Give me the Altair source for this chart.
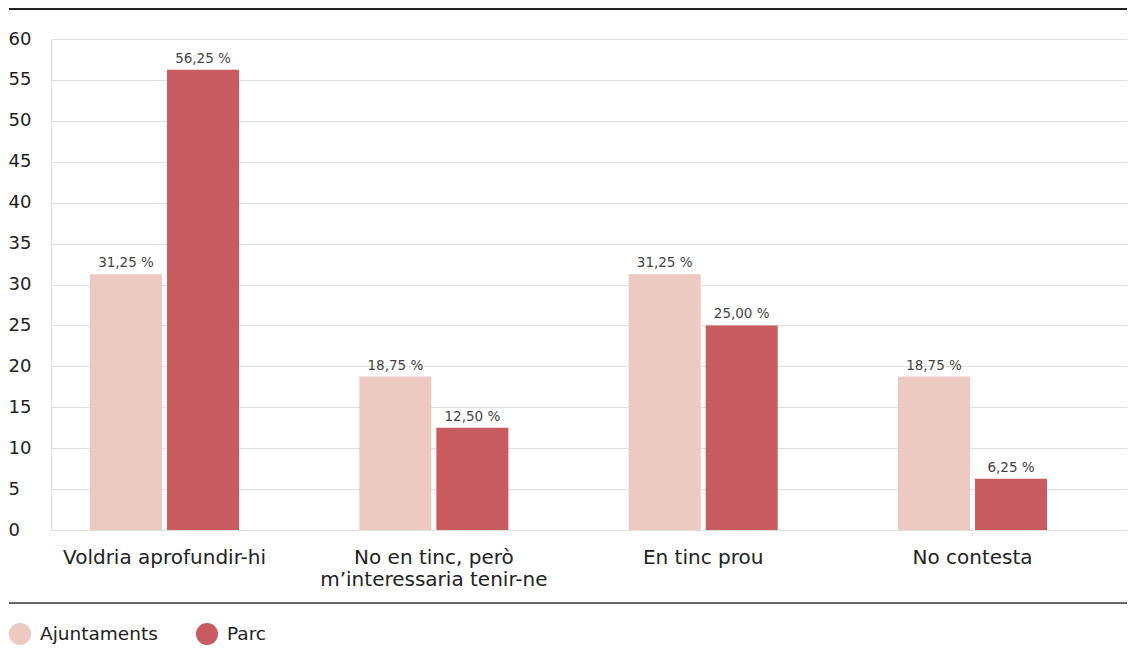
import altair as alt
import pandas as pd

categories = ["Voldria aprofundir-hi", "No en tinc, però\nm’interessaria tenir-ne", "En tinc prou", "No contesta"]
series = ["Ajuntaments", "Parc"]
ajuntaments = [31.25, 18.75, 31.25, 18.75]
parc = [56.25, 12.50, 25.00, 6.25]
y_ticks = list(range(0, 61, 5))
colors = ["#ecc9c1", "#c75b60"]

rows = []
for i, c in enumerate(categories):
    for s, vals in zip(series, [ajuntaments, parc]):
        v = vals[i]
        rows.append({"cat": c, "serie": s, "val": v,
                     "lbl": f"{v:.2f}".replace(".", ",") + " %"})
df = pd.DataFrame(rows)

FONT = "DejaVu Sans"
W, H = 1076, 491

xenc = alt.X("cat:N", sort=categories, title=None,
             scale=alt.Scale(paddingInner=0.4467, paddingOuter=0.2209, align=0.328),
             axis=alt.Axis(labelExpr="split(datum.label, '\\n')", labelAngle=0,
                           labelFontSize=20, labelColor="#222", labelFont=FONT,
                           labelBaseline="top", labelPadding=17, labelLineHeight=22,
                           ticks=False, domain=False, labelLimit=400))
xoff = alt.XOffset("serie:N", sort=series, scale=alt.Scale(paddingInner=0.065, paddingOuter=0))
yenc = alt.Y("val:Q", title=None,
             scale=alt.Scale(domain=[0, 60], nice=False),
             axis=alt.Axis(values=y_ticks, labelAlign="left", labelPadding=43, ticks=False,
                           tickSize=0, domain=False, labelFontSize=18, labelColor="#222",
                           labelFont=FONT, gridColor="#e0e0e0", gridWidth=1))

base = alt.Chart(df)

bars = base.mark_bar().encode(
    x=xenc, xOffset=xoff, y=yenc,
    color=alt.Color("serie:N", sort=series, title=None,
                    scale=alt.Scale(domain=series, range=colors),
                    legend=alt.Legend(orient="none", legendX=-42, legendY=584,
                                      direction="horizontal", symbolType="circle",
                                      symbolSize=484, symbolStrokeWidth=0,
                                      labelFontSize=18.5, labelColor="#222", labelFont=FONT,
                                      labelOffset=9, columnPadding=38))
)

labels = base.mark_text(baseline="bottom", dy=-4, fontSize=13.5, color="#444", font=FONT).encode(
    x=alt.X("cat:N", sort=categories), xOffset=alt.XOffset("serie:N", sort=series),
    y="val:Q", text="lbl:N"
)

top_rule = alt.Chart(pd.DataFrame({"a": [0]})).mark_rule(color="#222", strokeWidth=2).encode(
    x=alt.value(-42), x2=alt.value(W), y=alt.value(-30)
)
bottom_rule = alt.Chart(pd.DataFrame({"a": [0]})).mark_rule(color="#666", strokeWidth=2).encode(
    x=alt.value(-42), x2=alt.value(W), y=alt.value(564)
)

chart = alt.layer(bars, labels, top_rule, bottom_rule).properties(
    width=W, height=H,
    autosize=alt.AutoSizeParams(type="none"),
    padding={"left": 43, "top": 31, "right": 0, "bottom": 118},
).configure_view(stroke=None).configure(font=FONT)

chart.save("out.html", embed_options={"renderer": "svg", "actions": False})
